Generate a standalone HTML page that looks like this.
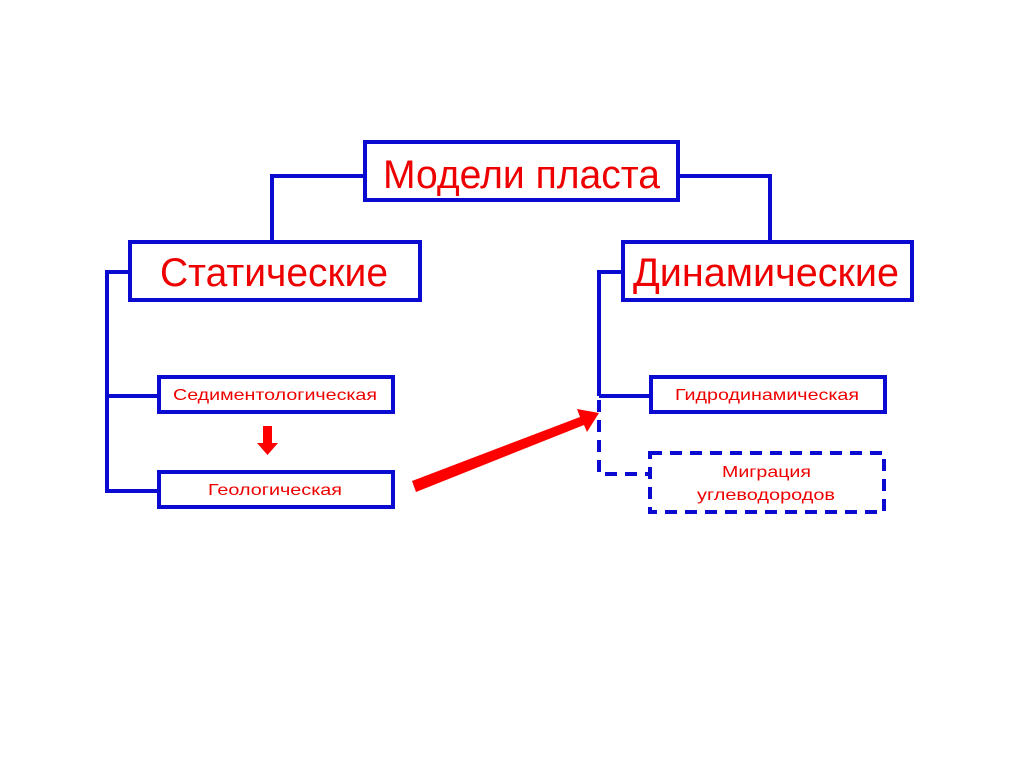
<!DOCTYPE html>
<html><head><meta charset="utf-8"><style>
body{margin:0;background:#fff;width:1024px;height:767px;overflow:hidden}
svg text{font-family:"Liberation Sans","DejaVu Sans",sans-serif;fill:#ee0000}
</style></head><body>
<svg width="1024" height="767" viewBox="0 0 1024 767" xmlns="http://www.w3.org/2000/svg">
<g fill="none" stroke="#0a0ad0" stroke-width="4">
<rect x="365" y="142" width="313" height="58"/>
<rect x="130" y="242" width="290" height="58"/>
<rect x="623" y="242" width="289" height="58"/>
<rect x="159" y="377" width="234" height="35"/>
<rect x="159" y="472" width="234" height="35"/>
<rect x="651" y="377" width="234" height="35"/>
<rect x="650" y="453" width="234" height="59" stroke-dasharray="12,8"/>
<polyline points="365,176 272,176 272,242"/>
<polyline points="678,176 770,176 770,242"/>
<polyline points="130,272 107,272 107,491 159,491"/>
<line x1="107" y1="396" x2="159" y2="396"/>
<polyline points="623,272 599,272 599,396"/>
<line x1="599" y1="396" x2="651" y2="396"/>
<polyline points="599,400 599,474 650,474" stroke-dasharray="12,8"/>
</g>
<g fill="#ff0000" stroke="none">
<rect x="263" y="426" width="9" height="18"/>
<polygon points="257,443 278,443 267.5,455"/>
<polygon points="412,481 580,417 577,409 599,413 587,432 584,425 416,492"/>
</g>
<text x="383" y="188" font-size="40" textLength="277" lengthAdjust="spacingAndGlyphs">Модели пласта</text>
<text x="160" y="286" font-size="40" textLength="228" lengthAdjust="spacingAndGlyphs">Статические</text>
<text x="633" y="286" font-size="40" textLength="266" lengthAdjust="spacingAndGlyphs">Динамические</text>
<text x="173" y="400" font-size="16" textLength="204" lengthAdjust="spacingAndGlyphs">Седиментологическая</text>
<text x="208" y="495" font-size="16" textLength="134" lengthAdjust="spacingAndGlyphs">Геологическая</text>
<text x="675" y="400" font-size="16" textLength="184" lengthAdjust="spacingAndGlyphs">Гидродинамическая</text>
<text x="722" y="477" font-size="16" textLength="89" lengthAdjust="spacingAndGlyphs">Миграция</text>
<text x="697" y="500" font-size="16" textLength="138" lengthAdjust="spacingAndGlyphs">углеводородов</text>
</svg>
</body></html>
